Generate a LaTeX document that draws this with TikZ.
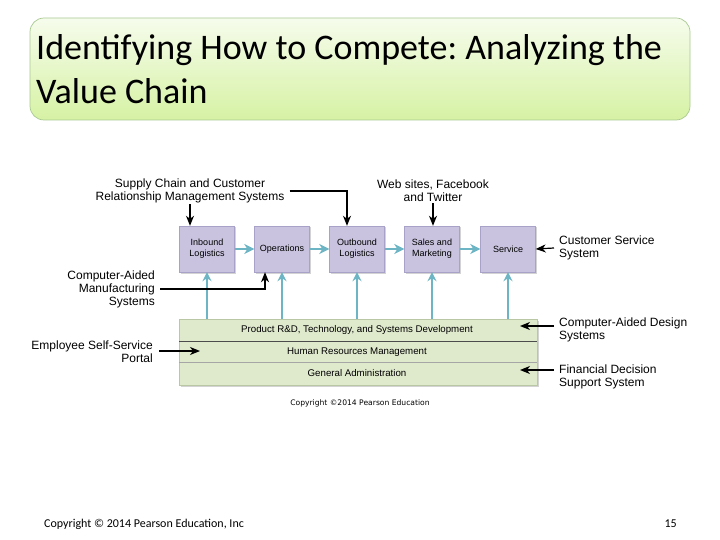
\documentclass[tikz,border=0pt]{standalone}
\usepackage{fontspec}
\setmainfont{Carlito}
\newfontfamily\arialf{Liberation Sans}
\newfontfamily\dejav{DejaVu Sans}
\usetikzlibrary{arrows.meta,shadows}
\definecolor{pboxc}{HTML}{C9C3DF}
\definecolor{pboxb}{HTML}{A9A2C8}
\definecolor{gboxc}{HTML}{DFE9CC}
\definecolor{gboxb}{HTML}{B9C7A4}
\definecolor{tealc}{HTML}{6DB5C4}
\definecolor{titb}{HTML}{A8C890}
\definecolor{titt}{HTML}{F6FCEC}
\definecolor{titbot}{HTML}{D6F2A4}
\frenchspacing
\tikzset{
  pbox/.style={draw=pboxb, fill=pboxc, minimum width=55pt, minimum height=46pt,
    align=center, inner sep=1pt, font=\arialf\fontsize{9}{11}\selectfont,
    drop shadow={shadow xshift=1.5pt, shadow yshift=-1.5pt, opacity=0.35}},
  lbl/.style={align=center, inner sep=1pt, font=\arialf\fontsize{12}{13}\selectfont},
  rowtxt/.style={inner sep=0pt, font=\arialf\fontsize{9.7}{11}\selectfont},
  blk/.style={draw=black, line width=1.2pt, -{Stealth[length=10pt,width=8pt,inset=3pt]}},
  tarr/.style={draw=tealc, line width=2.6pt, -{Stealth[length=10pt,width=10pt,inset=3pt]}},
  tvarr/.style={draw=tealc, line width=2.2pt, -{Stealth[length=9pt,width=9pt,inset=3pt]}},
}
\begin{document}
\begin{tikzpicture}[x=1pt,y=-1pt]
\useasboundingbox (0,0) rectangle (720,540);
% title
\draw[titb, line width=0.7pt, rounded corners=14pt, top color=titt, bottom color=titbot] (30,18) rectangle (690,120);
\node[anchor=base west, inner sep=0pt, font=\fontsize{36}{43}\selectfont] (t1) at (36,60) {Identifying How to Compete: Analyzing the};
\node[anchor=base west, inner sep=0pt, font=\fontsize{36}{43}\selectfont] (t2) at (36,104) {Value Chain};
% support activities
\node[draw=gboxb, fill=gboxc, minimum width=358pt, minimum height=66pt, inner sep=0pt,
  drop shadow={shadow xshift=1.5pt, shadow yshift=-1.5pt, opacity=0.35}] (sup) at (358,352) {};
\draw[black!70, line width=0.7pt] (179,341) -- (537,341);
\draw[black!35, line width=0.7pt] (179,362) -- (537,362);
\node[rowtxt] (r1) at (357,330) {Product R\&D, Technology, and Systems Development};
\node[rowtxt] (r2) at (357,352) {Human Resources Management};
\node[rowtxt] (r3) at (357,373) {General Administration};
% primary activities
\node[pbox] (inb) at (207,249) {Inbound\\Logistics};
\node[pbox] (ops) at (282,249) {Operations};
\node[pbox] (outb) at (357,249) {Outbound\\Logistics};
\node[pbox] (sales) at (432,249) {Sales and\\Marketing};
\node[pbox] (serv) at (508,249) {Service};
\draw[tarr] (inb.east) -- (ops.west);
\draw[tarr] (ops.east) -- (outb.west);
\draw[tarr] (outb.east) -- (sales.west);
\draw[tarr] (sales.east) -- (serv.west);
\foreach \b in {inb,ops,outb,sales,serv}{
  \draw[tvarr] (\b.south |- sup.north) -- (\b.south);
}
% labels
\node[lbl] (sc) at (190,191) {Supply Chain and Customer\\Relationship Management Systems};
\node[lbl] (wb) at (433,191) {Web sites, Facebook\\and Twitter};
\node[lbl, anchor=west, align=left] (cs) at (558,248) {Customer Service\\System};
\node[lbl, anchor=east, align=right] (cam) at (156,289) {Computer-Aided\\Manufacturing\\Systems};
\node[lbl, anchor=east, align=right] (ess) at (154,352) {Employee Self-Service\\Portal};
\node[lbl, anchor=west, align=left] (cad) at (558,329.5) {Computer-Aided Design\\Systems};
\node[lbl, anchor=west, align=left] (fds) at (558,376.5) {Financial Decision\\Support System};
% black arrows
\draw[blk] (sc.south) -- (sc.south |- inb.north);
\coordinate (outtop) at ([xshift=-10pt]outb.north);
\draw[blk] ([xshift=4pt]sc.east) -| (outtop);
\draw[blk] (wb.south) -- (wb.south |- sales.north);
\draw[blk] ([xshift=-4pt]cs.west) -- (serv.east);
\coordinate (opsbot) at ([xshift=-17pt]ops.south);
\draw[blk] ([xshift=4pt]cam.east) -| (opsbot);
\coordinate (essend) at (200,351);
\draw[blk] ([xshift=5pt]ess.east |- essend) -- (essend);
\coordinate (cadend) at (520,326);
\draw[blk] ([xshift=-4pt]cad.west |- cadend) -- (cadend);
\coordinate (fdsend) at (520,370);
\draw[blk] ([xshift=-4pt]fds.west |- fdsend) -- (fdsend);
% copyrights
\node[inner sep=0pt, font=\dejav\fontsize{7.6}{9}\selectfont] (cp) at (360,403) {Copyright ©2014 Pearson Education};
\node[anchor=base west, inner sep=0pt, font=\fontsize{12}{14}\selectfont] (foot) at (44,527) {Copyright © 2014 Pearson Education, Inc};
\node[anchor=base east, inner sep=0pt, font=\fontsize{12}{14}\selectfont] (pg) at (677,527) {15};
\end{tikzpicture}
\end{document}
